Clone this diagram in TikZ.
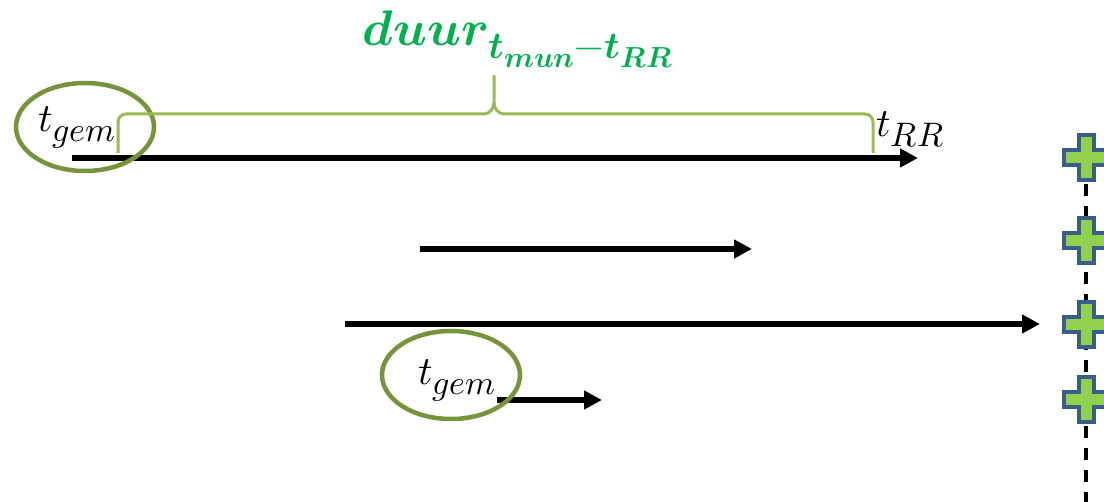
\documentclass[tikz,border=0pt]{standalone}
\usepackage{amsmath}
\usepackage{unicode-math}
\setmathfont{Latin Modern Math}
\usetikzlibrary{shapes.geometric,arrows.meta}

\definecolor{ringgreen}{HTML}{77933C}
\definecolor{bracegreen}{HTML}{9BBB59}
\definecolor{labelgreen}{HTML}{00B050}
\definecolor{plusfill}{HTML}{92D050}
\definecolor{plusline}{HTML}{3A5E8C}

\DeclareMathSizes{40}{40}{34}{27}
\DeclareMathSizes{50}{50}{38}{29}

\begin{document}
\begin{tikzpicture}[x=1pt,y=-1pt,
  axis/.style={line width=5.5pt,-{Triangle[length=18pt,width=18pt]}},
  ring/.style={ellipse,draw=ringgreen,line width=4.5pt,minimum width=138pt,minimum height=88pt,inner sep=0pt},
  tlabel/.style={font=\fontsize{40}{48}\selectfont,inner sep=0pt,anchor=base west},
  bracemark/.style={draw=bracegreen,line width=3pt,line join=round},
  timeline/.style={line width=3.5pt,dash pattern=on 12pt off 10pt},
  plusmark/.style={draw=plusline,fill=plusfill,line width=4pt}]

\useasboundingbox (0,0) rectangle (1104,502);
\clip (0,0) rectangle (1104,502);

%%%%%%%%%%%%%%%%%%%%%% TIME AXES

\coordinate (a1s) at (72,158);  \coordinate (a1e) at (918,158);
\coordinate (a2s) at (420,249); \coordinate (a2e) at (752,249);
\coordinate (a3s) at (345,324); \coordinate (a3e) at (1040,324);
\coordinate (a4s) at (497,400); \coordinate (a4e) at (602,400);

\draw[axis] (a1s) -- (a1e);
\draw[axis] (a2s) -- (a2e);
\draw[axis] (a3s) -- (a3e);
\draw[axis] (a4s) -- (a4e);

%%%%%%%%%%%%%%%%%%%%%% LABELS

\node (gem1) [tlabel] at (38,132) {$t_{gem}$};
\node (ring1) [ring] at (85,127) {};
\node (gem2) [tlabel] at (418,385) {$t_{gem}$};
\node (ring2) [ring] at (451,375) {};
\node (rr) [tlabel] at (876,137) {$t_{RR}$};

\draw[bracemark] (118,153) -- (118,122) to[out=90,in=180] (126,114) -- (484,114)
  to[out=0,in=-90] (494,102) -- (494,76) -- (494,102) to[out=-90,in=180] (504,114)
  -- (865,114) to[out=0,in=90] (873,122) -- (873,153);

\node (duur) [font=\fontsize{50}{60}\selectfont,text=labelgreen,inner sep=0pt,anchor=base west] at (362,46) {$\symbfit{duur_{t_{mun}-t_{RR}}}$};

%%%%%%%%%%%%%%%%%%%%%% MARKERS

\coordinate (dtop) at (1086,140);
\coordinate (dbot) at (1086,502);
\draw[timeline] (dtop) -- (dbot);

\foreach \y [count=\i] in {158,241,325,400} {
  \coordinate (plus\i) at (1086,\y);
  \draw[plusmark] (plus\i) ++(-7.5,-22.5) -- ++(15,0) -- ++(0,15) -- ++(15,0) -- ++(0,15)
    -- ++(-15,0) -- ++(0,15) -- ++(-15,0) -- ++(0,-15) -- ++(-15,0) -- ++(0,-15) -- ++(15,0) -- cycle;
}

\end{tikzpicture}
\end{document}
